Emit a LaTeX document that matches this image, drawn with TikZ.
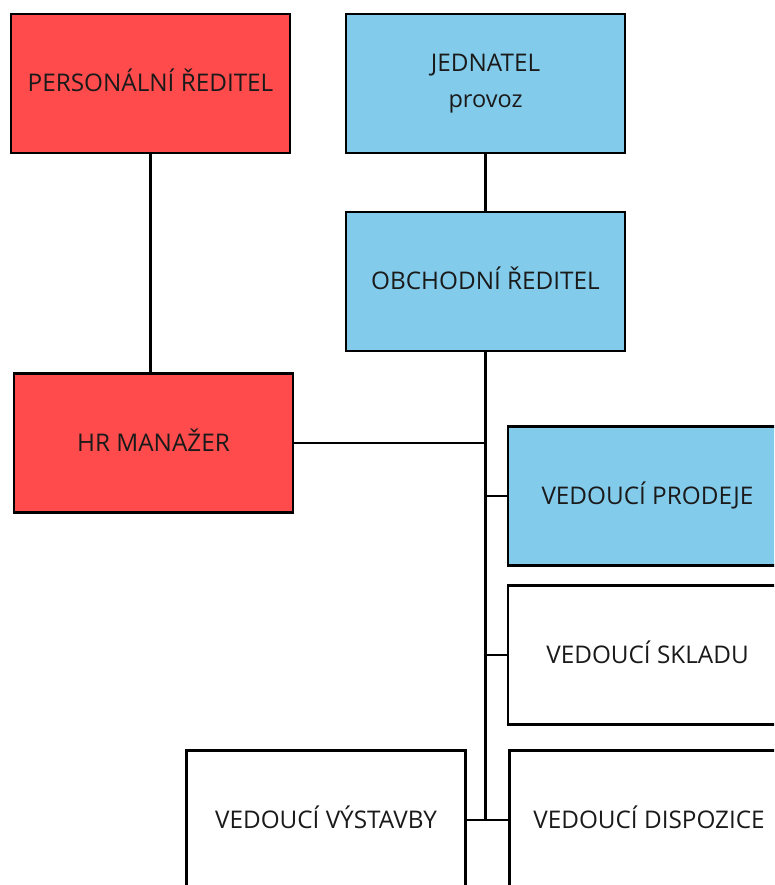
\documentclass[tikz,border=0pt]{standalone}
\usepackage{fontspec}
\setmainfont{Open Sans}
\definecolor{hrred}{HTML}{FF4B4B}
\definecolor{bossblue}{HTML}{83CBEB}
\definecolor{ink}{HTML}{1A1A1A}
\begin{document}
\begin{tikzpicture}[x=1pt,y=-1pt,
  orgbox/.style={draw=black,line width=2.4pt,minimum width=279pt,minimum height=139pt,inner sep=0pt,text=ink,font=\fontsize{24.3}{29}\selectfont,align=center},
  oneline/.style={text height=17.3pt,text depth=0.5pt},
  redbox/.style={orgbox,oneline,fill=hrred},
  bluebox/.style={orgbox,fill=bossblue},
  plainbox/.style={orgbox,oneline,fill=white},
  link/.style={line width=2.3pt},
  trunk/.style={line width=3.6pt}]
\useasboundingbox (0,0) rectangle (774,885);
\clip (0,0) rectangle (774,885);
\node[redbox] (pers) at (150.5,83.5) {PERSONÁLNÍ ŘEDITEL};
\node[bluebox] (jed) at (485.5,83.5) {JEDNATEL\\[7pt]\fontsize{23.5}{28}\selectfont provoz};
\node[bluebox,oneline] (obch) at (485.5,281.5) {OBCHODNÍ ŘEDITEL};
\node[redbox] (hr) at (153.5,443) {HR MANAŽER};
\node[bluebox,oneline] (prod) at (647.5,496) {VEDOUCÍ PRODEJE};
\node[plainbox] (skl) at (647.5,655) {VEDOUCÍ SKLADU};
\node[plainbox] (vys) at (326,820) {VEDOUCÍ VÝSTAVBY};
\node[plainbox] (disp) at (649,820) {VEDOUCÍ DISPOZICE};
\coordinate (tend) at (obch.south |- vys.east);
\draw[link] (pers.south) -- (pers.south |- hr.north);
\draw[link] (jed.south) -- (obch.north);
\draw[trunk] (obch.south) -- (tend);
\draw[link] (hr.east) -- (hr.east -| obch.south);
\draw[link] (prod.west -| obch.south) -- (prod.west);
\draw[link] (skl.west -| obch.south) -- (skl.west);
\draw[link] (vys.east) -- (disp.west);
\end{tikzpicture}
\end{document}
